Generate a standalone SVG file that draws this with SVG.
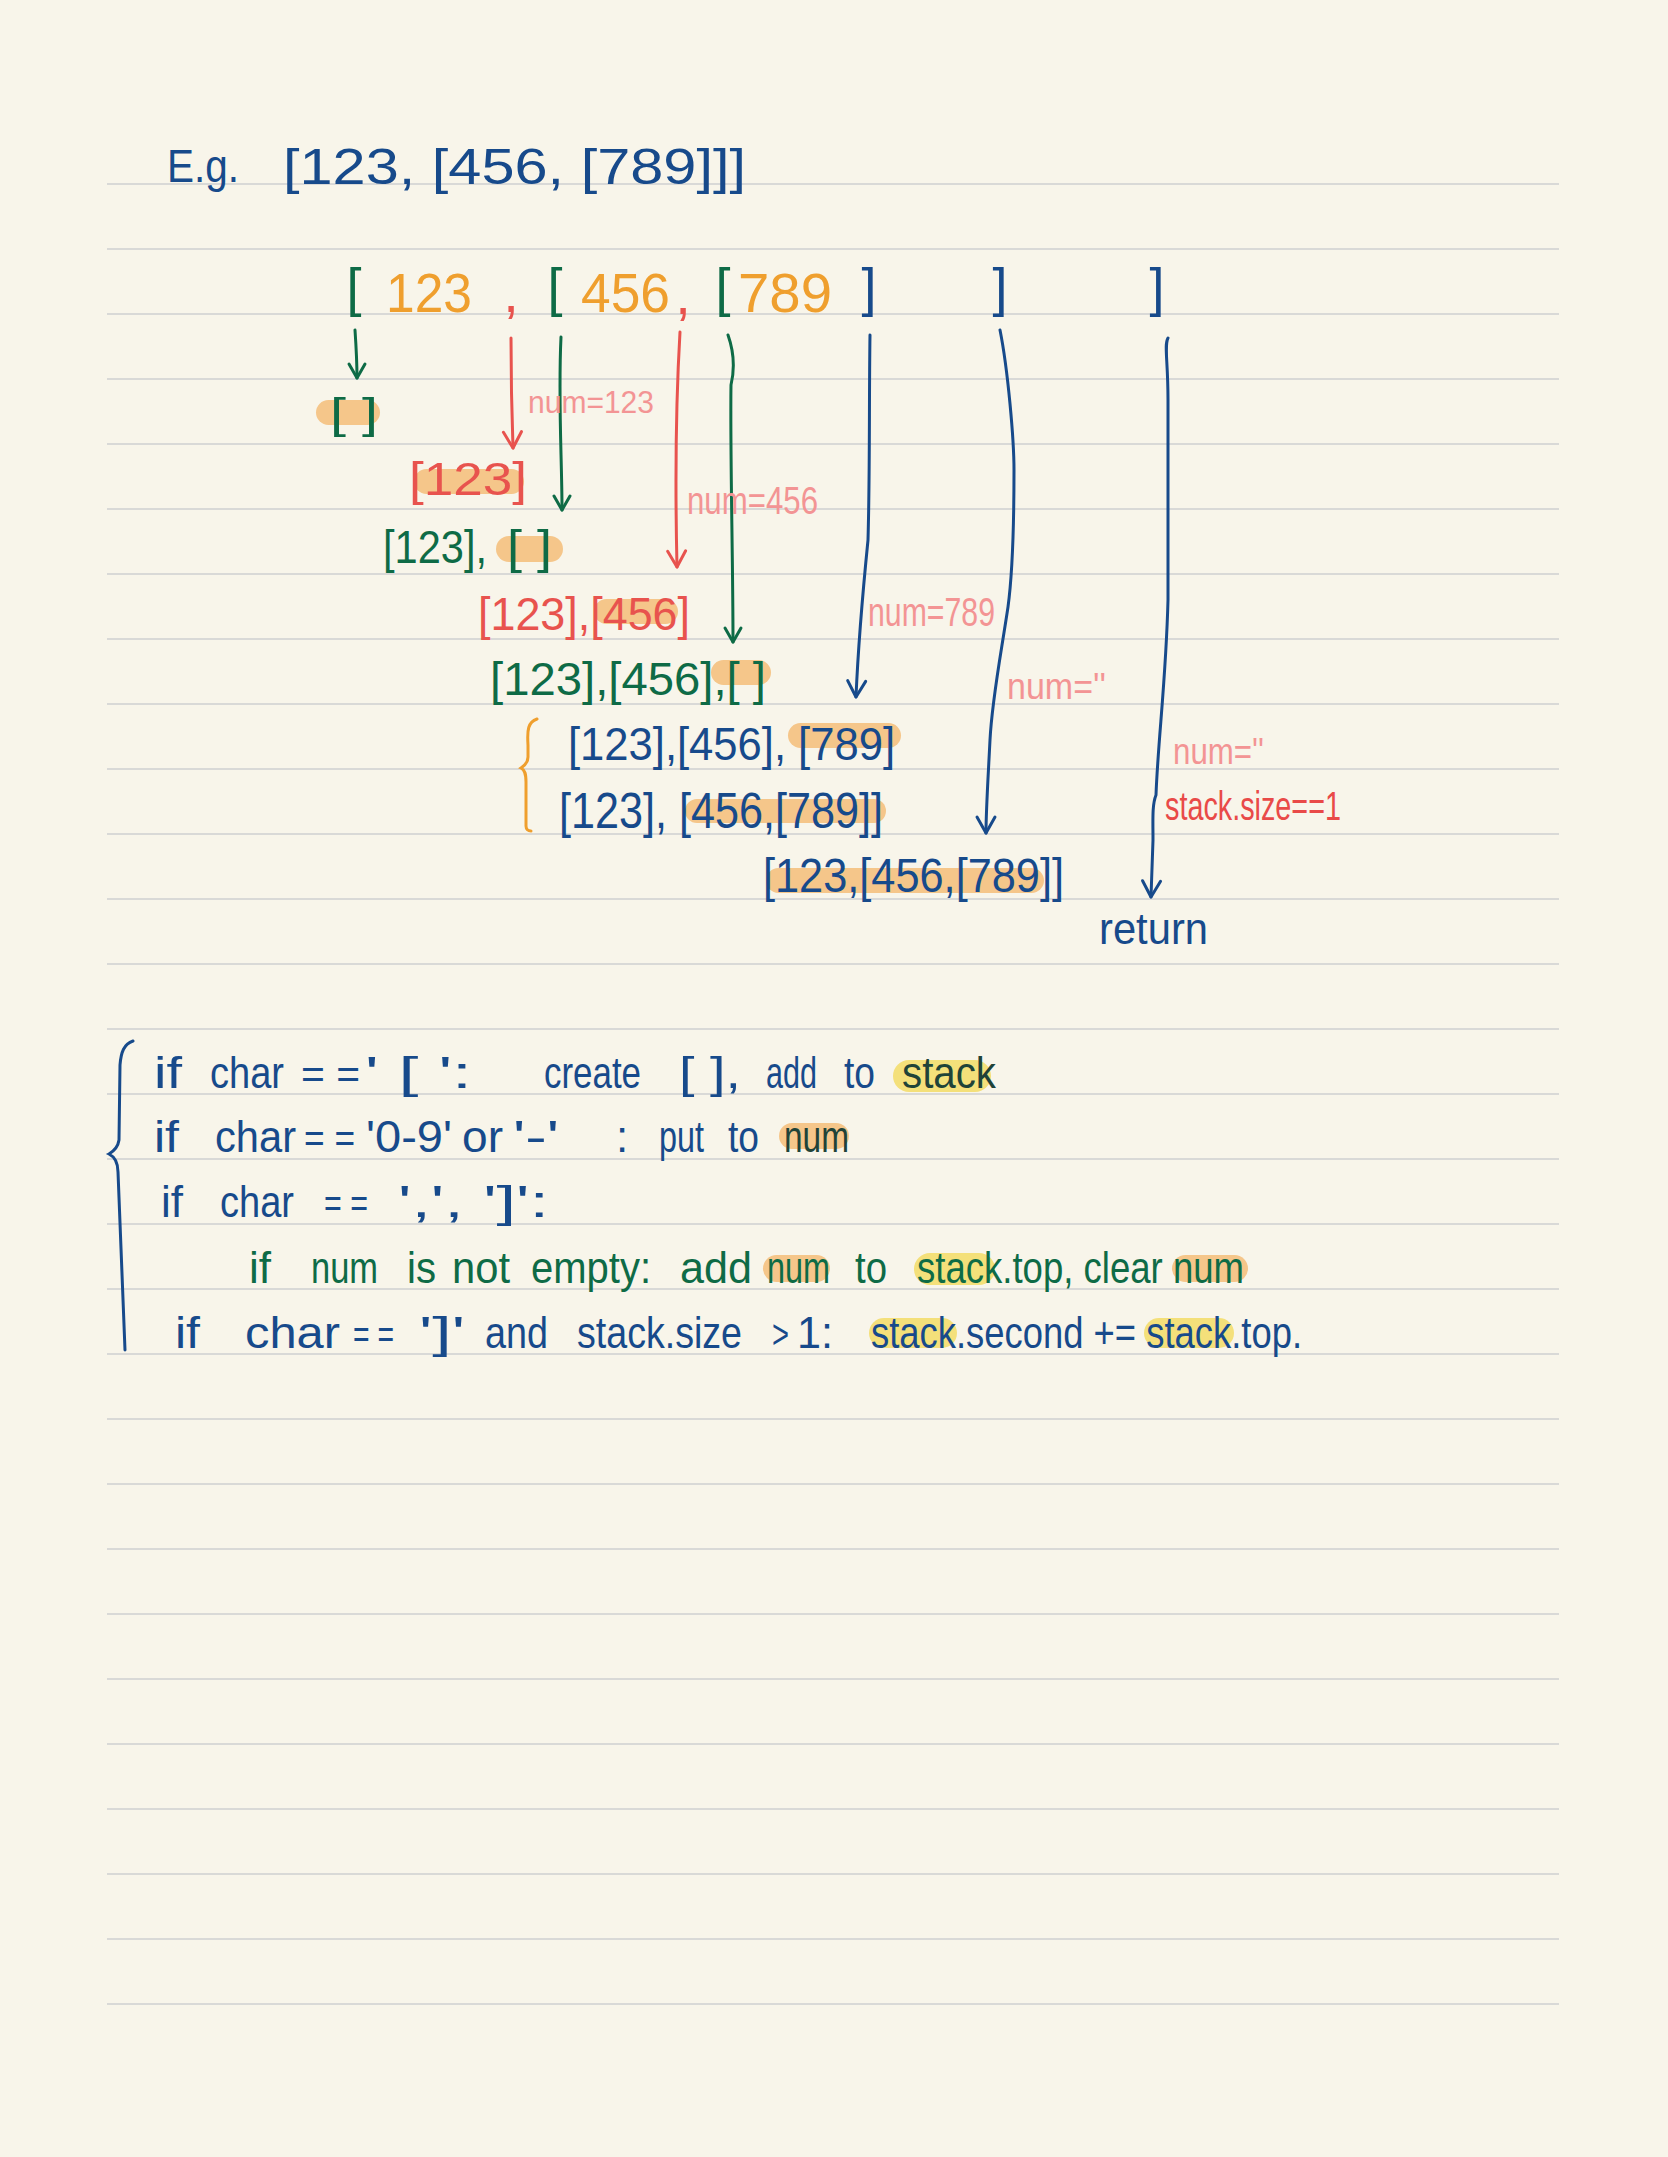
<svg xmlns="http://www.w3.org/2000/svg" width="1668" height="2157" viewBox="0 0 1668 2157">
<style>
text{font-family:"Liberation Sans","DejaVu Sans",sans-serif;}
.b{fill:#174A8B}.g{fill:#0E6B46}.o{fill:#EF9F2E}.r{fill:#E8534E}.p{fill:#F39494}.rr{fill:#E94A48}.k{fill:#1F4338}
.rule{stroke:#D9D9D7;stroke-width:2}
.ho{fill:#F5C68A}.hy{fill:#F4E07A}
.cb{fill:none;stroke:#174A8B;stroke-width:3;stroke-linecap:round}
.cg{fill:none;stroke:#0E6B46;stroke-width:3;stroke-linecap:round}
.cr{fill:none;stroke:#E8534E;stroke-width:3;stroke-linecap:round}
.t56{font-size:56px}.t54{font-size:54px}.t46{font-size:46px}.t44{font-size:44px}
</style>
<defs>
<marker id="mb" markerUnits="userSpaceOnUse" markerWidth="40" markerHeight="40" refX="0" refY="0" orient="auto" overflow="visible"><path d="M-16 -9 L0 0 L-16 9" fill="none" stroke="#174A8B" stroke-width="3" stroke-linecap="round" stroke-linejoin="round"/></marker>
<marker id="mg" markerUnits="userSpaceOnUse" markerWidth="40" markerHeight="40" refX="0" refY="0" orient="auto" overflow="visible"><path d="M-14 -8 L0 0 L-14 8" fill="none" stroke="#0E6B46" stroke-width="3" stroke-linecap="round" stroke-linejoin="round"/></marker>
<marker id="mr" markerUnits="userSpaceOnUse" markerWidth="40" markerHeight="40" refX="0" refY="0" orient="auto" overflow="visible"><path d="M-16 -9 L0 0 L-16 9" fill="none" stroke="#E8534E" stroke-width="3" stroke-linecap="round" stroke-linejoin="round"/></marker>
</defs>
<rect width="1668" height="2157" fill="#F8F5EA"/>
<g id="ruled-lines">
<line class="rule" x1="107" y1="184" x2="1559" y2="184"/><line class="rule" x1="107" y1="249" x2="1559" y2="249"/><line class="rule" x1="107" y1="314" x2="1559" y2="314"/><line class="rule" x1="107" y1="379" x2="1559" y2="379"/><line class="rule" x1="107" y1="444" x2="1559" y2="444"/><line class="rule" x1="107" y1="509" x2="1559" y2="509"/><line class="rule" x1="107" y1="574" x2="1559" y2="574"/><line class="rule" x1="107" y1="639" x2="1559" y2="639"/><line class="rule" x1="107" y1="704" x2="1559" y2="704"/><line class="rule" x1="107" y1="769" x2="1559" y2="769"/><line class="rule" x1="107" y1="834" x2="1559" y2="834"/><line class="rule" x1="107" y1="899" x2="1559" y2="899"/><line class="rule" x1="107" y1="964" x2="1559" y2="964"/><line class="rule" x1="107" y1="1029" x2="1559" y2="1029"/><line class="rule" x1="107" y1="1094" x2="1559" y2="1094"/><line class="rule" x1="107" y1="1159" x2="1559" y2="1159"/><line class="rule" x1="107" y1="1224" x2="1559" y2="1224"/><line class="rule" x1="107" y1="1289" x2="1559" y2="1289"/><line class="rule" x1="107" y1="1354" x2="1559" y2="1354"/><line class="rule" x1="107" y1="1419" x2="1559" y2="1419"/><line class="rule" x1="107" y1="1484" x2="1559" y2="1484"/><line class="rule" x1="107" y1="1549" x2="1559" y2="1549"/><line class="rule" x1="107" y1="1614" x2="1559" y2="1614"/><line class="rule" x1="107" y1="1679" x2="1559" y2="1679"/><line class="rule" x1="107" y1="1744" x2="1559" y2="1744"/><line class="rule" x1="107" y1="1809" x2="1559" y2="1809"/><line class="rule" x1="107" y1="1874" x2="1559" y2="1874"/><line class="rule" x1="107" y1="1939" x2="1559" y2="1939"/><line class="rule" x1="107" y1="2004" x2="1559" y2="2004"/>
</g>
<g id="title">
<text class="b" x="167" y="182" font-size="46" textLength="72" lengthAdjust="spacingAndGlyphs">E.g.</text>
<text class="b" x="283" y="184" font-size="50" textLength="463" lengthAdjust="spacingAndGlyphs">[123, [456, [789]]]</text>
</g>
<g id="input-sequence">
<text class="g t54" x="354" y="306" text-anchor="middle">[</text>
<text class="o t56" x="386" y="312" textLength="86" lengthAdjust="spacingAndGlyphs">123</text>
<text class="r t56" x="511" y="312" text-anchor="middle">,</text>
<text class="g t54" x="555" y="306" text-anchor="middle">[</text>
<text class="o t56" x="581" y="312" textLength="89" lengthAdjust="spacingAndGlyphs">456</text>
<text class="r t56" x="683" y="314" text-anchor="middle">,</text>
<text class="g t54" x="723" y="306" text-anchor="middle">[</text>
<text class="o t56" x="738" y="312" textLength="94" lengthAdjust="spacingAndGlyphs">789</text>
<text class="b t54" x="869" y="306" text-anchor="middle">]</text>
<text class="b t54" x="1000" y="306" text-anchor="middle">]</text>
<text class="b t54" x="1157" y="306" text-anchor="middle">]</text>
</g>
<g id="state-1">
<rect class="ho" x="316" y="400" width="64" height="25" rx="12.5"/>
<text class="g" x="330" y="428" font-size="42" textLength="48" lengthAdjust="spacingAndGlyphs">[ ]</text>
</g>
<g id="state-2">
<rect class="ho" x="414" y="469" width="110" height="25" rx="12.5"/>
<text class="r t46" x="409" y="495" textLength="118" lengthAdjust="spacingAndGlyphs">[123]</text>
</g>
<g id="state-3">
<rect class="ho" x="496" y="536" width="67" height="26" rx="13"/>
<text class="g t46" x="383" y="563" textLength="104" lengthAdjust="spacingAndGlyphs">[123],</text>
<text class="g t46" x="507" y="563" textLength="45" lengthAdjust="spacingAndGlyphs">[ ]</text>
</g>
<g id="state-4">
<rect class="ho" x="594" y="599" width="84" height="25" rx="12.5"/>
<text class="r t46" x="478" y="630" textLength="212" lengthAdjust="spacingAndGlyphs">[123],[456]</text>
</g>
<g id="state-5">
<rect class="ho" x="711" y="660" width="60" height="25" rx="12.5"/>
<text class="g t46" x="490" y="695" textLength="276" lengthAdjust="spacingAndGlyphs">[123],[456],[ ]</text>
</g>
<g id="state-6">
<rect class="ho" x="788" y="723" width="113" height="25" rx="12.5"/>
<text class="b t46" x="568" y="760" textLength="327" lengthAdjust="spacingAndGlyphs">[123],[456], [789]</text>
</g>
<g id="state-7">
<rect class="ho" x="685" y="799" width="201" height="24" rx="12"/>
<text class="b" x="559" y="828" font-size="50" textLength="324" lengthAdjust="spacingAndGlyphs">[123], [456,[789]]</text>
</g>
<g id="state-8">
<rect class="ho" x="766" y="868" width="278" height="25" rx="12.5"/>
<text class="b" x="763" y="892" font-size="48" textLength="301" lengthAdjust="spacingAndGlyphs">[123,[456,[789]]</text>
</g>
<g id="return-node">
<text class="b" x="1099" y="944" font-size="44" textLength="109" lengthAdjust="spacingAndGlyphs">return</text>
</g>
<g id="group-brace">
<path d="M537 719 C528 722 527 730 528 745 L528 757 C528 763 524 766 521 768 C525 770 526 774 526 782 L526 826 C526 829 528 831 531 831" fill="none" stroke="#EF9F2E" stroke-width="3" stroke-linecap="round"/>
</g>
<g id="connectors">
<path class="cg" d="M355 330 C356 345 357 360 357 378" marker-end="url(#mg)"/>
<path class="cr" d="M511 338 C511 380 512 420 513 448" marker-end="url(#mr)"/>
<path class="cg" d="M561 337 C558 400 562 460 562 510" marker-end="url(#mg)"/>
<path class="cr" d="M680 332 C676 400 675 480 677 567" marker-end="url(#mr)"/>
<path class="cg" d="M728 335 C734 352 735 368 731 385 C730 450 733 560 733 642" marker-end="url(#mg)"/>
<path class="cb" d="M870 335 C869 400 870 470 868 540 C862 600 858 650 856 697" marker-end="url(#mb)"/>
<path class="cb" d="M1000 330 C1008 370 1014 440 1014 470 C1014 530 1013 570 1008 607 C1000 660 992 700 990 740 C988 780 986 810 986 833" marker-end="url(#mb)"/>
<path class="cb" d="M1168 338 C1164 345 1168 360 1168 400 L1168 600 C1166 680 1158 740 1156 795 C1152 805 1153 820 1153 840 L1151 897" marker-end="url(#mb)"/>
</g>
<g id="labels">
<text class="p" x="528" y="413" font-size="32" textLength="126" lengthAdjust="spacingAndGlyphs">num=123</text>
<text class="p" x="687" y="514" font-size="38" textLength="131" lengthAdjust="spacingAndGlyphs">num=456</text>
<text class="p" x="868" y="626" font-size="40" textLength="127" lengthAdjust="spacingAndGlyphs">num=789</text>
<text class="p" x="1007" y="699" font-size="36" textLength="99" lengthAdjust="spacingAndGlyphs">num=''</text>
<text class="p" x="1173" y="764" font-size="36" textLength="91" lengthAdjust="spacingAndGlyphs">num=''</text>
<text class="rr" x="1165" y="820" font-size="40" textLength="176" lengthAdjust="spacingAndGlyphs">stack.size==1</text>
</g>
<g id="rules-brace">
<path d="M133 1041 C124 1044 121 1052 120 1065 L119 1140 C118 1147 114 1151 109 1154 C115 1157 118 1162 118 1172 L125 1350" fill="none" stroke="#174A8B" stroke-width="3" stroke-linecap="round"/>
</g>
<g id="rule-1">
<rect class="hy" x="893" y="1060" width="98" height="32" rx="16"/>
<text class="b t44" x="154" y="1088" textLength="28" lengthAdjust="spacingAndGlyphs">if</text>
<text class="b t44" x="210" y="1088" textLength="74" lengthAdjust="spacingAndGlyphs">char</text>
<text class="b" x="301" y="1088" font-size="40" textLength="59" lengthAdjust="spacingAndGlyphs">= =</text>
<text class="b t44" x="365" y="1088" textLength="107" lengthAdjust="spacingAndGlyphs">' [ ':</text>
<text class="b t44" x="544" y="1088" textLength="97" lengthAdjust="spacingAndGlyphs">create</text>
<text class="b t44" x="679" y="1088" textLength="62" lengthAdjust="spacingAndGlyphs">[ ],</text>
<text class="b t44" x="766" y="1088" textLength="51" lengthAdjust="spacingAndGlyphs">add</text>
<text class="b t44" x="844" y="1088" textLength="31" lengthAdjust="spacingAndGlyphs">to</text>
<text class="k t44" x="902" y="1088" textLength="94" lengthAdjust="spacingAndGlyphs">stack</text>
</g>
<g id="rule-2">
<rect class="ho" x="779" y="1123" width="70" height="26" rx="13"/>
<text class="b t44" x="154" y="1152" textLength="25" lengthAdjust="spacingAndGlyphs">if</text>
<text class="b t44" x="215" y="1152" textLength="81" lengthAdjust="spacingAndGlyphs">char</text>
<text class="b" x="304" y="1152" font-size="40" textLength="51" lengthAdjust="spacingAndGlyphs">= =</text>
<text class="b t44" x="366" y="1152" textLength="86" lengthAdjust="spacingAndGlyphs">'0-9'</text>
<text class="b t44" x="462" y="1152" textLength="41" lengthAdjust="spacingAndGlyphs">or</text>
<text class="b t44" x="513" y="1152" textLength="46" lengthAdjust="spacingAndGlyphs">'-'</text>
<text class="b t44" x="616" y="1152">:</text>
<text class="b t44" x="659" y="1152" textLength="45" lengthAdjust="spacingAndGlyphs">put</text>
<text class="b t44" x="728" y="1152" textLength="31" lengthAdjust="spacingAndGlyphs">to</text>
<text class="k t44" x="784" y="1152" textLength="65" lengthAdjust="spacingAndGlyphs">num</text>
</g>
<g id="rule-3">
<text class="b t44" x="161" y="1217" textLength="22" lengthAdjust="spacingAndGlyphs">if</text>
<text class="b t44" x="220" y="1217" textLength="74" lengthAdjust="spacingAndGlyphs">char</text>
<text class="b" x="324" y="1217" font-size="40" textLength="44" lengthAdjust="spacingAndGlyphs">= =</text>
<text class="b t44" x="398" y="1217" textLength="151" lengthAdjust="spacingAndGlyphs">',', ']':</text>
</g>
<g id="rule-4">
<rect class="ho" x="763" y="1255" width="67" height="27" rx="13.5"/>
<rect class="hy" x="914" y="1253" width="81" height="32" rx="16"/>
<rect class="ho" x="1172" y="1255" width="76" height="27" rx="13.5"/>
<text class="g t44" x="249" y="1283" textLength="22" lengthAdjust="spacingAndGlyphs">if</text>
<text class="g t44" x="311" y="1283" textLength="67" lengthAdjust="spacingAndGlyphs">num</text>
<text class="g t44" x="407" y="1283" textLength="29" lengthAdjust="spacingAndGlyphs">is</text>
<text class="g t44" x="452" y="1283" textLength="58" lengthAdjust="spacingAndGlyphs">not</text>
<text class="g t44" x="531" y="1283" textLength="120" lengthAdjust="spacingAndGlyphs">empty:</text>
<text class="g t44" x="680" y="1283" textLength="72" lengthAdjust="spacingAndGlyphs">add</text>
<text class="g t44" x="767" y="1283" textLength="63" lengthAdjust="spacingAndGlyphs">num</text>
<text class="g t44" x="855" y="1283" textLength="32" lengthAdjust="spacingAndGlyphs">to</text>
<text class="g t44" x="917" y="1283" textLength="327" lengthAdjust="spacingAndGlyphs">stack.top, clear num</text>
</g>
<g id="rule-5">
<rect class="hy" x="869" y="1318" width="88" height="30" rx="15"/>
<rect class="hy" x="1144" y="1318" width="90" height="30" rx="15"/>
<text class="b t44" x="175" y="1348" textLength="25" lengthAdjust="spacingAndGlyphs">if</text>
<text class="b t44" x="245" y="1348" textLength="95" lengthAdjust="spacingAndGlyphs">char</text>
<text class="b" x="353" y="1348" font-size="40" textLength="41" lengthAdjust="spacingAndGlyphs">= =</text>
<text class="b t44" x="419" y="1348" textLength="46" lengthAdjust="spacingAndGlyphs">']'</text>
<text class="b t44" x="485" y="1348" textLength="63" lengthAdjust="spacingAndGlyphs">and</text>
<text class="b t44" x="577" y="1348" textLength="165" lengthAdjust="spacingAndGlyphs">stack.size</text>
<text class="b" x="772" y="1348" font-size="40" textLength="17" lengthAdjust="spacingAndGlyphs">&gt;</text>
<text class="b t44" x="797" y="1348" textLength="36" lengthAdjust="spacingAndGlyphs">1:</text>
<text class="b t44" x="871" y="1348" textLength="431" lengthAdjust="spacingAndGlyphs">stack.second += stack.top.</text>
</g>
</svg>
